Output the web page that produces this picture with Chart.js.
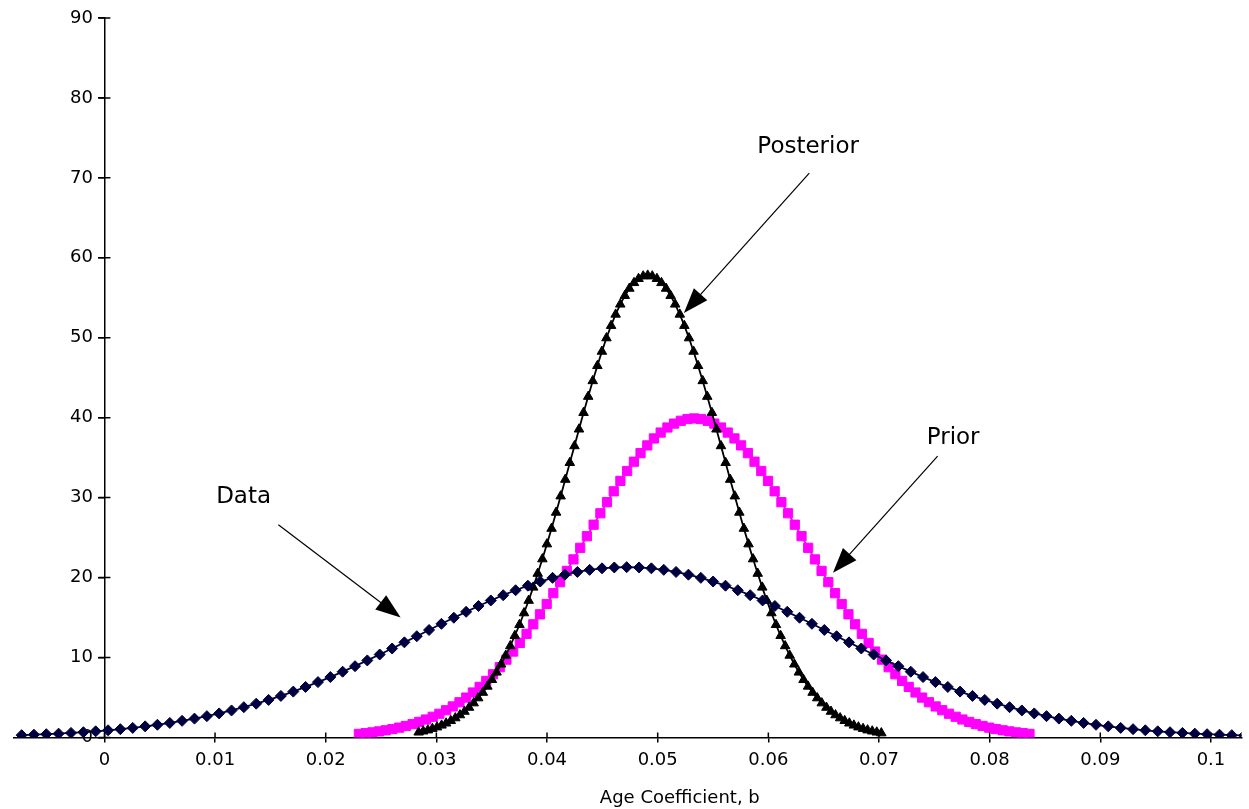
<!DOCTYPE html>
<html>
<head>
<meta charset="utf-8">
<script src="https://cdn.jsdelivr.net/npm/chart.js@4.4.1/dist/chart.umd.min.js"></script>
<style>
  html, body { margin: 0; padding: 0; background: #fff; }
  #wrap { width: 1249px; height: 809px; position: relative; }
</style>
</head>
<body>
<div id="wrap"><canvas id="chart"></canvas></div>
<script>
// Data curve (likelihood)
const dataX = [
  -0.00748, -0.00637, -0.00525, -0.00414, -0.00302, -0.00190, -0.00079, 0.00033, 0.00144, 0.00256,
  0.00368, 0.00479, 0.00591, 0.00702, 0.00814, 0.00926, 0.01037, 0.01149, 0.01260, 0.01372,
  0.01484, 0.01595, 0.01707, 0.01818, 0.01930, 0.02042, 0.02153, 0.02265, 0.02376, 0.02488,
  0.02600, 0.02711, 0.02823, 0.02934, 0.03046, 0.03158, 0.03269, 0.03381, 0.03492, 0.03604,
  0.03716, 0.03827, 0.03939, 0.04050, 0.04162, 0.04274, 0.04385, 0.04497, 0.04608, 0.04720,
  0.04832, 0.04943, 0.05055, 0.05166, 0.05278, 0.05390, 0.05501, 0.05613, 0.05724, 0.05836,
  0.05948, 0.06059, 0.06171, 0.06282, 0.06394, 0.06506, 0.06617, 0.06729, 0.06840, 0.06952,
  0.07064, 0.07175, 0.07287, 0.07398, 0.07510, 0.07622, 0.07733, 0.07845, 0.07956, 0.08068,
  0.08180, 0.08291, 0.08403, 0.08514, 0.08626, 0.08738, 0.08849, 0.08961, 0.09072, 0.09184,
  0.09296, 0.09407, 0.09519, 0.09630, 0.09742, 0.09854, 0.09965, 0.10077, 0.10188, 0.10300
];
const dataY = [
  0.28, 0.34, 0.40, 0.47, 0.56, 0.65, 0.76, 0.89, 1.03, 1.19,
  1.38, 1.58, 1.81, 2.07, 2.35, 2.66, 3.00, 3.37, 3.78, 4.22,
  4.69, 5.19, 5.73, 6.31, 6.92, 7.55, 8.22, 8.91, 9.63, 10.37,
  11.12, 11.89, 12.66, 13.44, 14.21, 14.97, 15.71, 16.44, 17.13, 17.79,
  18.41, 18.98, 19.50, 19.96, 20.36, 20.70, 20.96, 21.15, 21.26, 21.30,
  21.26, 21.15, 20.96, 20.70, 20.36, 19.96, 19.50, 18.98, 18.41, 17.79,
  17.13, 16.44, 15.71, 14.97, 14.21, 13.44, 12.66, 11.89, 11.12, 10.37,
  9.63, 8.91, 8.22, 7.55, 6.92, 6.31, 5.73, 5.19, 4.69, 4.22,
  3.78, 3.37, 3.00, 2.66, 2.35, 2.07, 1.81, 1.58, 1.38, 1.19,
  1.03, 0.89, 0.76, 0.65, 0.56, 0.47, 0.40, 0.34, 0.28, 0.24
];

// Posterior curve
const postX = [
  0.02840, 0.02881, 0.02923, 0.02964, 0.03006, 0.03047, 0.03088, 0.03130, 0.03171, 0.03213,
  0.03254, 0.03295, 0.03337, 0.03378, 0.03420, 0.03461, 0.03502, 0.03544, 0.03585, 0.03627,
  0.03668, 0.03709, 0.03751, 0.03792, 0.03834, 0.03875, 0.03916, 0.03958, 0.03999, 0.04041,
  0.04082, 0.04123, 0.04165, 0.04206, 0.04248, 0.04289, 0.04330, 0.04372, 0.04413, 0.04455,
  0.04496, 0.04537, 0.04579, 0.04620, 0.04662, 0.04703, 0.04744, 0.04786, 0.04827, 0.04869,
  0.04910, 0.04951, 0.04993, 0.05034, 0.05076, 0.05117, 0.05158, 0.05200, 0.05241, 0.05283,
  0.05324, 0.05365, 0.05407, 0.05448, 0.05490, 0.05531, 0.05572, 0.05614, 0.05655, 0.05697,
  0.05738, 0.05779, 0.05821, 0.05862, 0.05904, 0.05945, 0.05986, 0.06028, 0.06069, 0.06111,
  0.06152, 0.06193, 0.06235, 0.06276, 0.06318, 0.06359, 0.06400, 0.06442, 0.06483, 0.06525,
  0.06566, 0.06607, 0.06649, 0.06690, 0.06732, 0.06773, 0.06814, 0.06856, 0.06897, 0.06939,
  0.06980, 0.07021
];
const postY = [
  0.64, 0.77, 0.91, 1.09, 1.28, 1.51, 1.77, 2.08, 2.42, 2.80,
  3.24, 3.74, 4.29, 4.92, 5.61, 6.38, 7.21, 8.14, 9.15, 10.25,
  11.44, 12.72, 14.09, 15.56, 17.12, 18.77, 20.50, 22.31, 24.18, 26.13,
  28.14, 30.18, 32.26, 34.36, 36.46, 38.55, 40.62, 42.64, 44.60, 46.49,
  48.28, 49.96, 51.51, 52.92, 54.18, 55.26, 56.16, 56.87, 57.38, 57.70,
  57.80, 57.70, 57.38, 56.87, 56.16, 55.26, 54.18, 52.92, 51.51, 49.96,
  48.28, 46.49, 44.60, 42.64, 40.62, 38.55, 36.46, 34.36, 32.26, 30.18,
  28.14, 26.13, 24.18, 22.31, 20.50, 18.77, 17.12, 15.56, 14.09, 12.72,
  11.44, 10.25, 9.15, 8.14, 7.21, 6.38, 5.61, 4.92, 4.29, 3.74,
  3.24, 2.80, 2.42, 2.08, 1.77, 1.51, 1.28, 1.09, 0.91, 0.77,
  0.64, 0.54
];

// Prior curve
const priorX = [
  0.02300, 0.02361, 0.02421, 0.02482, 0.02542, 0.02603, 0.02664, 0.02724, 0.02785, 0.02845,
  0.02906, 0.02967, 0.03027, 0.03088, 0.03148, 0.03209, 0.03270, 0.03330, 0.03391, 0.03451,
  0.03512, 0.03573, 0.03633, 0.03694, 0.03754, 0.03815, 0.03876, 0.03936, 0.03997, 0.04057,
  0.04118, 0.04179, 0.04239, 0.04300, 0.04360, 0.04421, 0.04482, 0.04542, 0.04603, 0.04663,
  0.04724, 0.04785, 0.04845, 0.04906, 0.04966, 0.05027, 0.05088, 0.05148, 0.05209, 0.05269,
  0.05330, 0.05391, 0.05451, 0.05512, 0.05572, 0.05633, 0.05694, 0.05754, 0.05815, 0.05875,
  0.05936, 0.05997, 0.06057, 0.06118, 0.06178, 0.06239, 0.06300, 0.06360, 0.06421, 0.06481,
  0.06542, 0.06603, 0.06663, 0.06724, 0.06784, 0.06845, 0.06906, 0.06966, 0.07027, 0.07087,
  0.07148, 0.07209, 0.07269, 0.07330, 0.07390, 0.07451, 0.07512, 0.07572, 0.07633, 0.07693,
  0.07754, 0.07815, 0.07875, 0.07936, 0.07996, 0.08057, 0.08118, 0.08178, 0.08239, 0.08299,
  0.08360
];
const priorY = [
  0.44, 0.53, 0.63, 0.75, 0.89, 1.04, 1.22, 1.43, 1.67, 1.94,
  2.24, 2.58, 2.96, 3.40, 3.87, 4.40, 4.98, 5.62, 6.32, 7.07,
  7.90, 8.78, 9.73, 10.74, 11.82, 12.96, 14.15, 15.40, 16.69, 18.04,
  19.42, 20.83, 22.27, 23.72, 25.17, 26.61, 28.04, 29.43, 30.79, 32.09,
  33.33, 34.49, 35.56, 36.53, 37.40, 38.14, 38.77, 39.26, 39.61, 39.83,
  39.90, 39.83, 39.61, 39.26, 38.77, 38.14, 37.40, 36.53, 35.56, 34.49,
  33.33, 32.09, 30.79, 29.43, 28.04, 26.61, 25.17, 23.72, 22.27, 20.83,
  19.42, 18.04, 16.69, 15.40, 14.15, 12.96, 11.82, 10.74, 9.73, 8.78,
  7.90, 7.07, 6.32, 5.62, 4.98, 4.40, 3.87, 3.40, 2.96, 2.58,
  2.24, 1.94, 1.67, 1.43, 1.22, 1.04, 0.89, 0.75, 0.63, 0.53,
  0.44
];

const axisTitle = 'Age Coefficient, b';

// callout labels with arrows, in data units
const notes = [
  { text: 'Posterior', tx: 0.0636, ty: 73.9, x1: 0.0637, y1: 70.6, x2: 0.05237, y2: 53.1 },
  { text: 'Prior', tx: 0.0767, ty: 37.5, x1: 0.0753, y1: 35.2, x2: 0.06584, y2: 20.6 },
  { text: 'Data', tx: 0.01258, ty: 30.1, x1: 0.01572, y1: 26.6, x2: 0.02677, y2: 15.0 },
];

const FONT = '"DejaVu Sans", sans-serif';
Chart.defaults.font.family = FONT;
Chart.defaults.font.size = 18;
Chart.defaults.color = '#000';

const toPoints = (xs, ys) => xs.map((x, i) => ({ x, y: ys[i] }));

function drawArrow(ctx, ax, ay, bx, by) {
  const ang = Math.atan2(by - ay, bx - ax);
  const len = 25, half = 9;
  const c = Math.cos(ang), s = Math.sin(ang);
  ctx.beginPath();
  ctx.moveTo(ax, ay);
  ctx.lineTo(bx - c * len * 0.8, by - s * len * 0.8);
  ctx.stroke();
  ctx.beginPath();
  ctx.moveTo(bx, by);
  ctx.lineTo(bx - c * len - s * half, by - s * len + c * half);
  ctx.lineTo(bx - c * len + s * half, by - s * len - c * half);
  ctx.closePath();
  ctx.fill();
}

const overlay = {
  id: 'overlay',
  afterDraw(chart) {
    const { ctx, chartArea } = chart;
    const { x, y } = chart.scales;
    const x0 = x.getPixelForValue(0);
    const y0 = y.getPixelForValue(0);
    ctx.save();

    // tick marks poke through the axis lines on the inside too
    ctx.strokeStyle = '#000';
    ctx.lineWidth = 1.5;
    ctx.beginPath();
    x.ticks.forEach(t => {
      const px = x.getPixelForValue(t.value);
      ctx.moveTo(px, y0);
      ctx.lineTo(px, y0 - 5);
    });
    y.ticks.forEach(t => {
      const py = y.getPixelForValue(t.value);
      ctx.moveTo(x0 - 6, py);
      ctx.lineTo(x0 + 6, py);
    });
    ctx.stroke();

    // callouts
    ctx.fillStyle = '#000';
    ctx.lineWidth = 1.2;
    ctx.font = '23px ' + FONT;
    ctx.textAlign = 'center';
    ctx.textBaseline = 'middle';
    notes.forEach(n => {
      ctx.fillText(n.text, x.getPixelForValue(n.tx), y.getPixelForValue(n.ty));
      drawArrow(ctx,
        x.getPixelForValue(n.x1), y.getPixelForValue(n.y1),
        x.getPixelForValue(n.x2), y.getPixelForValue(n.y2));
    });

    // axis title, centred a little right of the middle like the original
    ctx.font = '18px ' + FONT;
    ctx.fillText(axisTitle, x.getPixelForValue(0.052), chartArea.bottom + 61);
    ctx.restore();
  }
};

new Chart(document.getElementById('chart'), {
  type: 'line',
  data: {
    datasets: [
      {
        label: 'Data',
        data: toPoints(dataX, dataY),
        borderColor: '#000040',
        backgroundColor: '#000040',
        borderWidth: 1.8,
        pointStyle: 'rectRot',
        pointRadius: 5.5,
        pointBorderWidth: 1,
      },
      {
        label: 'Posterior',
        data: toPoints(postX, postY),
        borderColor: '#000',
        backgroundColor: '#000',
        borderWidth: 1.8,
        pointStyle: 'triangle',
        pointRadius: 5.5,
        pointBorderWidth: 1,
      },
      {
        label: 'Prior',
        data: toPoints(priorX, priorY),
        borderColor: '#ff00ff',
        backgroundColor: '#ff00ff',
        borderWidth: 1.8,
        pointStyle: 'rect',
        pointRadius: 6.5,
        pointBorderWidth: 1,
      },
    ],
  },
  options: {
    responsive: true,
    maintainAspectRatio: false,
    animation: false,
    layout: { padding: { top: 18, left: 14, right: 0, bottom: 31 } },
    elements: { line: { tension: 0 } },
    plugins: { legend: { display: false }, tooltip: { enabled: false } },
    scales: {
      x: {
        type: 'linear',
        min: -0.00817,
        max: 0.10276,
        ticks: {
          stepSize: 0.01,
          includeBounds: false,
          padding: 7,
          maxRotation: 0,
          callback: v => String(+v.toFixed(2)),
        },
        grid: { drawOnChartArea: false, tickLength: 5, color: '#000', lineWidth: 1.5 },
        border: { color: '#000', width: 1.5 },
      },
      y: {
        type: 'linear',
        position: { x: 0 },
        min: 0,
        max: 90,
        // labels of an axis placed at x = 0 sit flush on the line; two trailing
        // spaces push them clear of the tick marks
        ticks: { stepSize: 10, padding: 0, callback: v => v + '  ' },
        grid: { drawOnChartArea: false, tickLength: 6, color: '#000', lineWidth: 1.5 },
        border: { color: '#000', width: 1.5 },
      },
    },
  },
  plugins: [overlay],
});
</script>
</body>
</html>
